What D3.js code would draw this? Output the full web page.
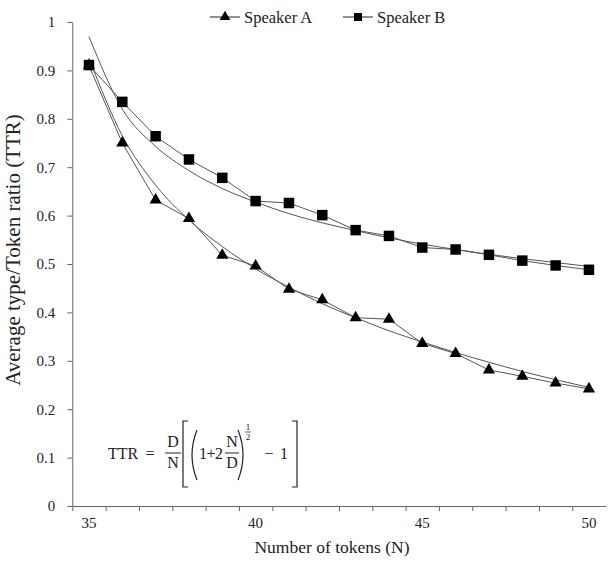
<!DOCTYPE html>
<html>
<head>
<meta charset="utf-8">
<script src="https://cdn.jsdelivr.net/npm/d3@7"></script>
<style>
    body { margin: 0; background: #fff; }
    text { font-family: "Liberation Serif", "Times New Roman", serif; fill: #222; }
</style>
</head>
<body>
<div id="chart"></div>
<script>
const tokens = [35, 36, 37, 38, 39, 40, 41, 42, 43, 44, 45, 46, 47, 48, 49, 50];
const speakerA = [0.910, 0.750, 0.632, 0.594, 0.518, 0.496, 0.448, 0.426, 0.389, 0.386, 0.336, 0.315, 0.281, 0.268, 0.254, 0.242];
const speakerB = [0.911, 0.835, 0.764, 0.716, 0.678, 0.630, 0.626, 0.601, 0.570, 0.558, 0.534, 0.530, 0.519, 0.507, 0.497, 0.488];
// fitted curves
const fitA = [0.925, 0.765, 0.663, 0.591, 0.536, 0.490, 0.452, 0.418, 0.389, 0.362, 0.339, 0.317, 0.297, 0.278, 0.261, 0.245];
const fitB = [0.970, 0.820, 0.743, 0.693, 0.656, 0.628, 0.604, 0.585, 0.569, 0.554, 0.541, 0.530, 0.520, 0.511, 0.503, 0.495];
const yTicks = [0, 0.1, 0.2, 0.3, 0.4, 0.5, 0.6, 0.7, 0.8, 0.9, 1];
const xLabels = [35, 40, 45, 50];

const width = 612;
const height = 581;

const svg = d3.select("#chart")
    .append("svg")
    .attr("width", width)
    .attr("height", height);

const xScale = d3.scaleLinear()
    .domain([34.5, 50.5])
    .range([72.3, 605.6]);

const yScale = d3.scaleLinear()
    .domain([0, 1])
    .range([506, 22]);

const axisColor = "#666";

// x axis: ticks between categories, labels at category centres
const xAxis = svg.append("g")
    .attr("transform", "translate(0,506)")
    .call(d3.axisBottom(xScale)
        .tickValues(tokens.map(t => t - 0.5))
        .tickSize(5)
        .tickSizeOuter(0)
        .tickFormat(""));
xAxis.select(".domain").attr("stroke", axisColor);
xAxis.selectAll(".tick line").attr("stroke", axisColor);

svg.append("g")
    .selectAll("text")
    .data(xLabels)
    .enter().append("text")
    .attr("x", d => xScale(d))
    .attr("y", 528)
    .attr("text-anchor", "middle")
    .style("font-size", "15px")
    .text(d => d);

const yAxis = svg.append("g")
    .attr("transform", "translate(72.3,0)")
    .call(d3.axisLeft(yScale)
        .tickValues(yTicks)
        .tickSize(5)
        .tickSizeOuter(0)
        .tickPadding(12)
        .tickFormat(d => d3.format("")(+d.toFixed(1))));
yAxis.select(".domain").attr("stroke", axisColor);
yAxis.selectAll(".tick line").attr("stroke", axisColor);
yAxis.selectAll(".tick text")
    .style("font-family", "'Liberation Serif', serif")
    .style("font-size", "15px")
    .attr("fill", "#222");

svg.append("text")
    .attr("x", 332)
    .attr("y", 553)
    .attr("text-anchor", "middle")
    .style("font-size", "17.5px")
    .text("Number of tokens (N)");

svg.append("text")
    .attr("transform", "translate(20,250) rotate(-90)")
    .attr("text-anchor", "middle")
    .style("font-size", "21px")
    .text("Average type/Token ratio (TTR)");

// fitted curves
const curveLine = d3.line()
    .x((d, i) => xScale(tokens[i]))
    .y(d => yScale(d))
    .curve(d3.curveMonotoneX);

const dataLine = d3.line()
    .x((d, i) => xScale(tokens[i]))
    .y(d => yScale(d));

[fitA, fitB].forEach(fit => {
    svg.append("path")
        .attr("d", curveLine(fit))
        .attr("fill", "none")
        .attr("stroke", "#555")
        .attr("stroke-width", 1);
});

[speakerA, speakerB].forEach(series => {
    svg.append("path")
        .attr("d", dataLine(series))
        .attr("fill", "none")
        .attr("stroke", "#555")
        .attr("stroke-width", 1);
});

const triangle = d3.symbol().type(d3.symbolTriangle).size(64);
const square = d3.symbol().type(d3.symbolSquare).size(110);

svg.append("g")
    .selectAll("path")
    .data(speakerA)
    .enter().append("path")
    .attr("d", triangle)
    .attr("transform", (d, i) => `translate(${xScale(tokens[i])},${yScale(d)})`)
    .attr("fill", "#000");

svg.append("g")
    .selectAll("path")
    .data(speakerB)
    .enter().append("path")
    .attr("d", square)
    .attr("transform", (d, i) => `translate(${xScale(tokens[i])},${yScale(d)})`)
    .attr("fill", "#000");

// legend
const legend = svg.append("g");
const legendItems = [
    { name: "Speaker A", x: 210, sym: d3.symbol().type(d3.symbolTriangle).size(50) },
    { name: "Speaker B", x: 343, sym: d3.symbol().type(d3.symbolSquare).size(64) }
];
legendItems.forEach(item => {
    legend.append("line")
        .attr("x1", item.x).attr("x2", item.x + 30)
        .attr("y1", 17).attr("y2", 17)
        .attr("stroke", "#222");
    legend.append("path")
        .attr("d", item.sym())
        .attr("transform", `translate(${item.x + 15},17)`)
        .attr("fill", "#000");
    legend.append("text")
        .attr("x", item.x + 34)
        .attr("y", 22.5)
        .style("font-size", "16.5px")
        .text(item.name);
});

// formula
const f = svg.append("g").style("font-size", "16px");
function t(x, y, s, size, anchor) {
    f.append("text")
        .attr("x", x).attr("y", y)
        .attr("text-anchor", anchor || "start")
        .style("font-size", size ? size + "px" : null)
        .text(s);
}
t(108, 459, "TTR");
t(150, 459, "=", null, "middle");
t(173, 447, "D", null, "middle");
f.append("line").attr("x1", 165).attr("x2", 181).attr("y1", 453).attr("y2", 453).attr("stroke", "#222");
t(173, 468, "N", null, "middle");
f.append("path").attr("d", "M188,421 H183 V487 H188").attr("fill", "none").attr("stroke", "#222").attr("stroke-width", 1.2);
f.append("path").attr("d", "M197,430 Q187,455 197,480").attr("fill", "none").attr("stroke", "#222").attr("stroke-width", 1.2);
t(203, 459, "1", null, "middle");
t(211, 459, "+", null, "middle");
t(219, 459, "2", null, "middle");
t(232, 447, "N", null, "middle");
f.append("line").attr("x1", 225).attr("x2", 239).attr("y1", 453).attr("y2", 453).attr("stroke", "#222");
t(232, 468, "D", null, "middle");
f.append("path").attr("d", "M238,430 Q248,455 238,480").attr("fill", "none").attr("stroke", "#222").attr("stroke-width", 1.2);
t(248, 430, "1", 9, "middle");
f.append("line").attr("x1", 245).attr("x2", 251).attr("y1", 432).attr("y2", 432).attr("stroke", "#222").attr("stroke-width", 0.7);
t(248, 440, "2", 9, "middle");
t(269, 459, "\u2212", null, "middle");
t(284, 459, "1", null, "middle");
f.append("path").attr("d", "M292,421 H297 V487 H292").attr("fill", "none").attr("stroke", "#222").attr("stroke-width", 1.2);
</script>
</body>
</html>
